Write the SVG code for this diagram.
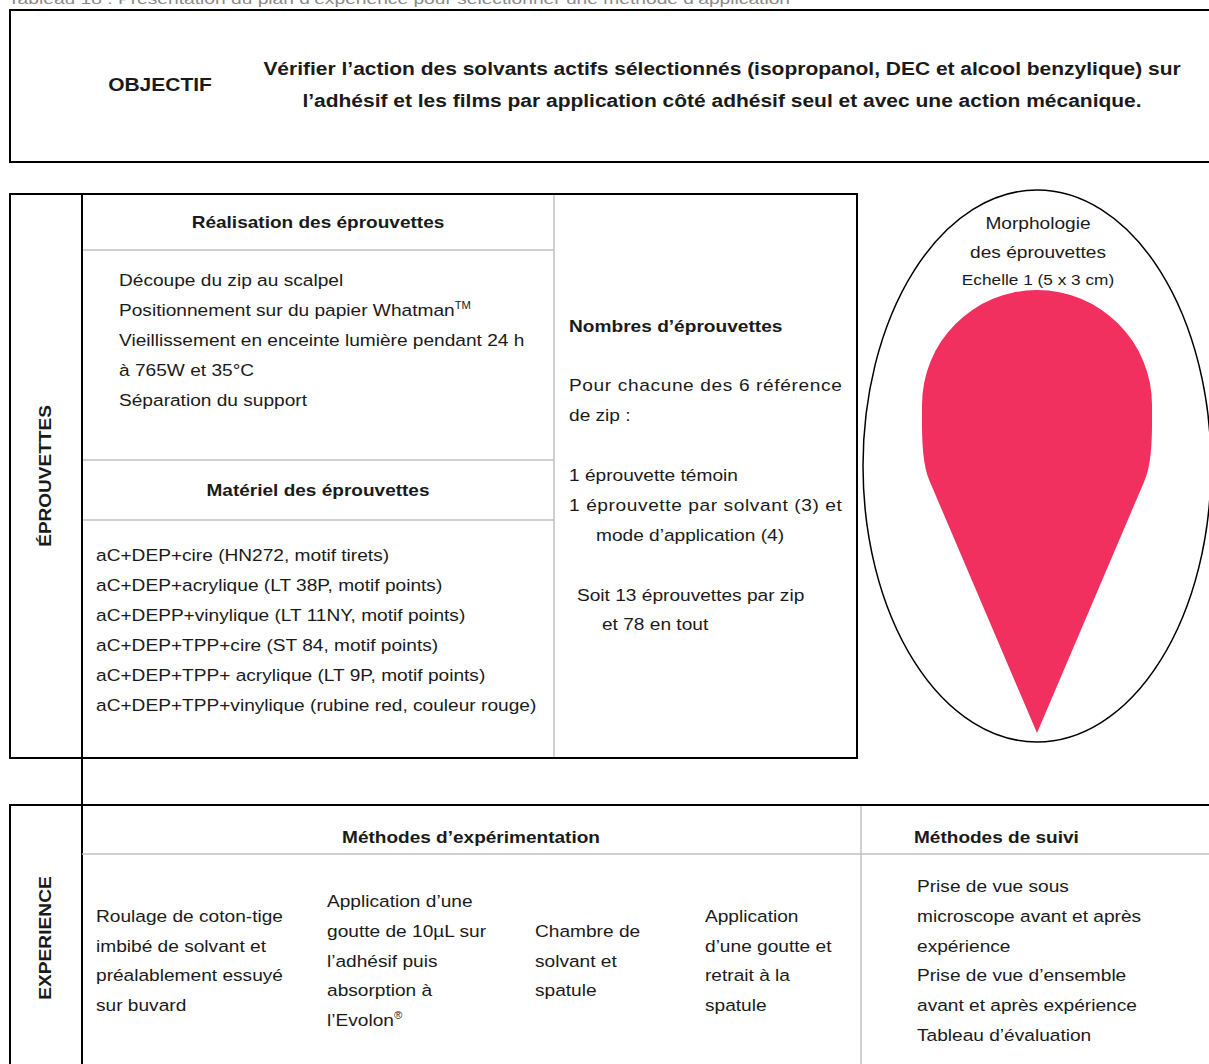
<svg xmlns="http://www.w3.org/2000/svg" width="1209" height="1064" viewBox="0 0 1209 1064">
<style>
text{font-family:"Liberation Sans",Arial,sans-serif;fill:#1a1a1a}
.t{font-size:17px}
.b{font-size:17px;font-weight:bold}
.o{font-size:18.5px;font-weight:bold}
.c{text-anchor:middle}
.k{fill:none;stroke:#000;stroke-width:2}
.g{fill:none;stroke:#c0c0c0;stroke-width:1.5}
.cap{font-size:15px;fill:#8a8a8a}
.sup{font-size:10px}
</style>
<rect width="1209" height="1064" fill="#fff"/>
<text class="cap" x="8" y="4" textLength="782" lengthAdjust="spacingAndGlyphs">Tableau 18 : Présentation du plan d’expérience pour sélectionner une méthode d’application</text>

<g id="objectif">
<rect class="k" x="10" y="10" width="1220" height="152"/>
<text class="o c" transform="translate(160,0) scale(1.135,1)" x="0" y="91">OBJECTIF</text>
<g transform="translate(722,0) scale(1.135,1)">
<text class="o c" x="0" y="75">Vérifier l’action des solvants actifs sélectionnés (isopropanol, DEC et alcool benzylique) sur</text>
<text class="o c" x="0" y="107">l’adhésif et les films par application côté adhésif seul et avec une action mécanique.</text>
</g>
</g>

<g id="eprouvettes">
<line class="g" x1="554" y1="194" x2="554" y2="758"/>
<line class="g" x1="82" y1="250" x2="554" y2="250"/>
<line class="g" x1="82" y1="460" x2="554" y2="460"/>
<line class="g" x1="82" y1="520" x2="554" y2="520"/>
<rect class="k" x="10" y="194" width="847" height="564"/>
<text class="b" transform="translate(51,476) rotate(-90) scale(1.12,1)" text-anchor="middle">ÉPROUVETTES</text>
<text class="b c" transform="translate(318,0) scale(1.12,1)" x="0" y="228">Réalisation des éprouvettes</text>
<g transform="translate(119,0) scale(1.125,1)">
<text class="t" x="0" y="286">Découpe du zip au scalpel</text>
<text class="t" x="0" y="316">Positionnement sur du papier Whatman<tspan class="sup" dy="-7">TM</tspan></text>
<text class="t" x="0" y="346">Vieillissement en enceinte lumière pendant 24 h</text>
<text class="t" x="0" y="376">à 765W et 35°C</text>
<text class="t" x="0" y="406">Séparation du support</text>
</g>
<text class="b c" transform="translate(318,0) scale(1.12,1)" x="0" y="496">Matériel des éprouvettes</text>
<g transform="translate(96,0) scale(1.125,1)">
<text class="t" x="0" y="561">aC+DEP+cire (HN272, motif tirets)</text>
<text class="t" x="0" y="591">aC+DEP+acrylique (LT 38P, motif points)</text>
<text class="t" x="0" y="621">aC+DEPP+vinylique (LT 11NY, motif points)</text>
<text class="t" x="0" y="651">aC+DEP+TPP+cire (ST 84, motif points)</text>
<text class="t" x="0" y="681">aC+DEP+TPP+ acrylique (LT 9P, motif points)</text>
<text class="t" x="0" y="711">aC+DEP+TPP+vinylique (rubine red, couleur rouge)</text>
</g>
<g transform="translate(569,0) scale(1.125,1)">
<text class="b" x="0" y="332">Nombres d’éprouvettes</text>
<text class="t" x="0" y="391" textLength="242.5" lengthAdjust="spacing">Pour chacune des 6 référence</text>
<text class="t" x="0" y="421">de zip :</text>
<text class="t" x="0" y="481">1 éprouvette témoin</text>
<text class="t" x="0" y="511" textLength="242.5" lengthAdjust="spacing">1 éprouvette par solvant (3) et</text>
<text class="t" x="24" y="541">mode d’application (4)</text>
<text class="t" x="7.1" y="601">Soit 13 éprouvettes par zip</text>
<text class="t" x="29.3" y="630">et 78 en tout</text>
</g>
</g>

<g id="morphologie">
<ellipse cx="1037" cy="466" rx="174" ry="276" fill="none" stroke="#000" stroke-width="1.5"/>
<path d="M1037,733 L930,482 C921,462 922,430 922,405 A115,115 0 0 1 1152,405 C1152,430 1153,462 1144,482 Z" fill="#f2305f"/>
<g transform="translate(1038,0) scale(1.125,1)">
<text class="t c" x="0" y="229">Morphologie</text>
<text class="t c" x="0" y="258">des éprouvettes</text>
</g>
<text class="c" transform="translate(1038,0) scale(1.15,1)" x="0" y="285" font-size="15">Echelle 1 (5 x 3 cm)</text>
</g>

<g id="lines">
<line class="k" x1="82" y1="194" x2="82" y2="1064"/>
</g>

<g id="experience">
<line class="g" x1="861" y1="805" x2="861" y2="1064"/>
<line class="g" x1="82" y1="854" x2="1209" y2="854"/>
<path class="k" d="M1215,805 H10 V1070"/>
<text class="b" transform="translate(51,938) rotate(-90) scale(1.13,1)" text-anchor="middle">EXPERIENCE</text>
<text class="b c" transform="translate(471,0) scale(1.12,1)" x="0" y="843">Méthodes d’expérimentation</text>
<text class="b" transform="translate(914,0) scale(1.12,1)" x="0" y="843">Méthodes de suivi</text>
<g transform="translate(96,0) scale(1.125,1)">
<text class="t" x="0" y="922">Roulage de coton-tige</text>
<text class="t" x="0" y="952">imbibé de solvant et</text>
<text class="t" x="0" y="981">préalablement essuyé</text>
<text class="t" x="0" y="1011">sur buvard</text>
</g>
<g transform="translate(327,0) scale(1.125,1)">
<text class="t" x="0" y="907">Application d’une</text>
<text class="t" x="0" y="937">goutte de 10µL sur</text>
<text class="t" x="0" y="967">l’adhésif puis</text>
<text class="t" x="0" y="996">absorption à</text>
<text class="t" x="0" y="1026">l’Evolon<tspan class="sup" dy="-7">®</tspan></text>
</g>
<g transform="translate(535,0) scale(1.125,1)">
<text class="t" x="0" y="937">Chambre de</text>
<text class="t" x="0" y="967">solvant et</text>
<text class="t" x="0" y="996">spatule</text>
</g>
<g transform="translate(705,0) scale(1.125,1)">
<text class="t" x="0" y="922">Application</text>
<text class="t" x="0" y="952">d’une goutte et</text>
<text class="t" x="0" y="981">retrait à la</text>
<text class="t" x="0" y="1011">spatule</text>
</g>
<g transform="translate(917,0) scale(1.125,1)">
<text class="t" x="0" y="892">Prise de vue sous</text>
<text class="t" x="0" y="922">microscope avant et après</text>
<text class="t" x="0" y="952">expérience</text>
<text class="t" x="0" y="981">Prise de vue d’ensemble</text>
<text class="t" x="0" y="1011">avant et après expérience</text>
<text class="t" x="0" y="1041">Tableau d’évaluation</text>
</g>
</g>
</svg>
